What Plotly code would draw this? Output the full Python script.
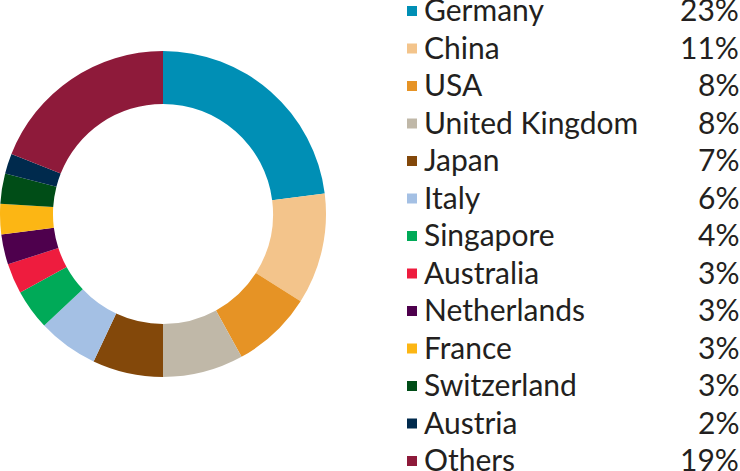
import plotly.graph_objects as go

countries = ["Germany", "China", "USA", "United Kingdom", "Japan", "Italy", "Singapore",
             "Australia", "Netherlands", "France", "Switzerland", "Austria", "Others"]
shares = [23, 11, 8, 8, 7, 6, 4, 3, 3, 3, 3, 2, 19]
colors = ["#008fb5", "#f3c48b", "#e69325", "#c0b8a8", "#83480a", "#a4c0e4", "#00aa58",
          "#ee1c3e", "#4e004d", "#fcb614", "#004d17", "#002a4d", "#8e1a3a"]

W, H = 740, 471
FONT = "Lato"
TXT = "#231f20"
FS = 30

fig = go.Figure()

fig.add_trace(go.Pie(
    labels=countries, values=shares, sort=False, direction="clockwise", rotation=0,
    hole=0.675, marker=dict(colors=colors, line=dict(width=0)),
    textinfo="none", hoverinfo="label+percent", showlegend=False,
    domain=dict(x=[0, 326 / W], y=[1 - 377 / H, 1 - 51 / H]),
))

idx = list(range(len(countries)))
# legend squares
fig.add_trace(go.Scatter(
    x=[0] * len(countries), y=idx, mode="markers",
    marker=dict(symbol="square", size=10, color=colors, line=dict(width=0)),
    xaxis="x2", yaxis="y2", showlegend=False, hoverinfo="skip", cliponaxis=False,
))

annotations = []
for i, (name, v) in enumerate(zip(countries, shares)):
    annotations.append(dict(
        x=0, y=i, xref="x2", yref="y2", text=name, showarrow=False,
        xanchor="left", yanchor="middle", xshift=10, yshift=2,
        font=dict(family=FONT, size=FS, color=TXT),
    ))
    annotations.append(dict(
        x=1, y=i, xref="x2", yref="y2", text=f"{v}%", showarrow=False,
        xanchor="right", yanchor="middle", xshift=1, yshift=2,
        font=dict(family=FONT, size=FS, color=TXT),
    ))

row0, step = 11, 37.5
fig.update_layout(
    width=W, height=H, margin=dict(l=0, r=0, t=0, b=0),
    paper_bgcolor="white", plot_bgcolor="rgba(0,0,0,0)",
    xaxis2=dict(domain=[412 / W, 1], range=[0, 1], visible=False, fixedrange=True),
    yaxis2=dict(domain=[0, 1], range=[(H - row0) / step, -row0 / step],
                visible=False, fixedrange=True, anchor="x2"),
    xaxis=dict(visible=False), yaxis=dict(visible=False),
    annotations=annotations,
)

fig.write_html("out.html", config={"displayModeBar": False},
               post_script="document.body.style.margin='0';")
